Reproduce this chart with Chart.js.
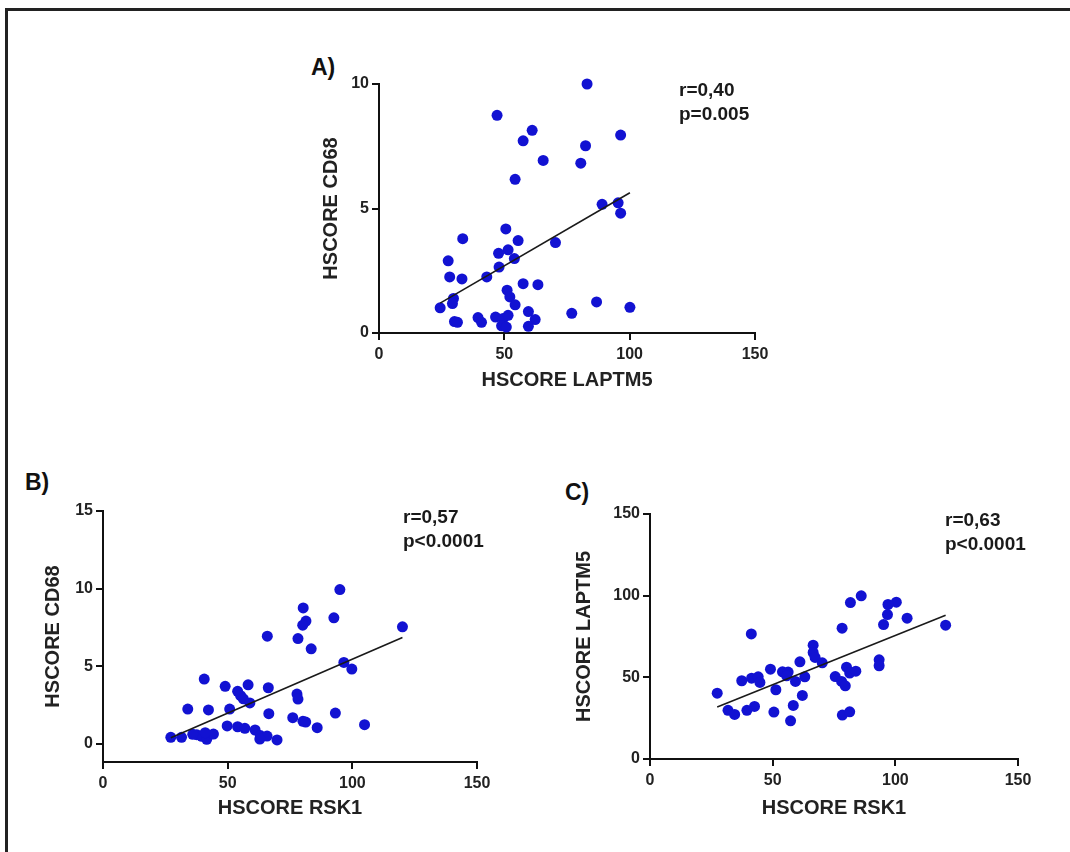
<!DOCTYPE html>
<html>
<head>
<meta charset="utf-8">
<script src="https://cdn.jsdelivr.net/npm/chart.js@4.4.1/dist/chart.umd.min.js"></script>
<style>
  body { margin: 0; background: #fff; font-family: 'Liberation Sans', Arial, sans-serif; }
  #page { position: relative; width: 1070px; height: 852px; overflow: hidden; background: #fff; }
  #frame { position: absolute; left: 5px; top: 8px; width: 1080px; height: 860px; border-top: 3px solid #222; border-left: 3px solid #222; }
  canvas { position: absolute; }
  .panel { position: absolute; font-weight: bold; font-size: 23px; line-height: 23px; color: #111; }
  .stats { position: absolute; font-weight: bold; font-size: 19px; line-height: 24px; color: #1a1a1a; white-space: nowrap; }
</style>
</head>
<body>
<div id="page">
  <div id="frame"></div>

  <div class="panel" style="left: 311px; top: 56px;">A)</div>
  <div class="panel" style="left: 25px; top: 471px;">B)</div>
  <div class="panel" style="left: 565px; top: 481px;">C)</div>

  <canvas id="chartA" width="490" height="370"></canvas>
  <canvas id="chartB" width="490" height="360"></canvas>
  <canvas id="chartC" width="490" height="360"></canvas>

  <div class="stats" style="left: 679px; top: 78px;">r=0,40<br>p=0.005</div>
  <div class="stats" style="left: 403px; top: 505px;">r=0,57<br>p&lt;0.0001</div>
  <div class="stats" style="left: 945px; top: 508px;">r=0,63<br>p&lt;0.0001</div>
</div>

<script>
// Panel A: HSCORE LAPTM5 (x) vs HSCORE CD68 (y)
var laptm5A = [83, 47.1, 61.1, 57.5, 96.4, 82.4, 65.5, 80.5, 54.3, 89.0, 95.4, 96.4, 50.6, 33.4, 55.5,
  70.4, 47.7, 51.5, 54.0, 47.9, 27.6, 28.2, 33.1, 43.0, 57.5, 63.4, 51.1, 52.2, 54.3, 29.7,
  29.3, 24.4, 86.8, 100.1, 76.9, 59.6, 62.3, 59.6, 39.5, 40.9, 30.1, 31.3, 46.5, 49.5, 51.5, 48.9, 50.8];
var cd68A = [10.0, 8.74, 8.14, 7.72, 7.95, 7.52, 6.93, 6.82, 6.17, 5.17, 5.23, 4.81, 4.18, 3.79, 3.71,
  3.63, 3.20, 3.34, 2.99, 2.65, 2.90, 2.25, 2.17, 2.25, 1.98, 1.94, 1.72, 1.45, 1.13, 1.39,
  1.18, 1.01, 1.25, 1.03, 0.79, 0.86, 0.54, 0.27, 0.62, 0.43, 0.46, 0.43, 0.64, 0.58, 0.71, 0.29, 0.24];
var fitXA = [24.4, 100.1];
var fitYA = [1.2, 5.63];

// Panel B: HSCORE RSK1 (x) vs HSCORE CD68 (y)
var rsk1B = [95.0, 80.3, 92.6, 81.4, 80.1, 120.1, 65.9, 78.2, 83.5, 96.6, 99.8, 40.6, 49.0, 58.2, 66.3,
  54.0, 55.2, 56.3, 58.9, 77.8, 78.2, 34.0, 42.3, 50.8, 66.5, 93.2, 76.1, 80.2, 81.3, 85.9,
  104.9, 49.8, 54.0, 56.9, 61.0, 63.1, 65.8, 69.8, 62.9, 27.2, 31.5, 37.6, 39.6, 41.6, 44.3, 41.0, 36.0];
var cd68B = [9.94, 8.76, 8.12, 7.91, 7.65, 7.54, 6.94, 6.79, 6.13, 5.25, 4.82, 4.18, 3.71, 3.81, 3.62,
  3.39, 3.11, 2.91, 2.64, 3.21, 2.89, 2.25, 2.19, 2.25, 1.95, 1.99, 1.69, 1.46, 1.41, 1.05,
  1.24, 1.16, 1.11, 1.01, 0.90, 0.54, 0.51, 0.26, 0.32, 0.43, 0.43, 0.60, 0.49, 0.30, 0.64, 0.73, 0.62];
var fitXB = [27.2, 120.1];
var fitYB = [0.4, 6.86];

// Panel C: HSCORE RSK1 (x) vs HSCORE LAPTM5 (y)
var rsk1C = [86.1, 81.7, 100.4, 97.0, 96.8, 104.8, 95.2, 120.5, 78.3, 41.3, 66.5, 66.5, 67.3, 70.2, 61.1,
  93.4, 93.4, 49.1, 54.0, 56.3, 55.7, 63.1, 59.3, 75.5, 80.1, 81.4, 83.9, 78.1, 79.6, 37.4,
  41.4, 44.1, 44.8, 27.4, 51.3, 62.1, 58.4, 42.6, 39.5, 31.8, 34.5, 50.5, 57.3, 78.4, 81.4];
var laptm5C = [99.9, 95.8, 96.0, 94.6, 88.4, 86.2, 82.3, 81.9, 80.1, 76.6, 69.7, 65.2, 62.2, 58.9, 59.5,
  60.7, 57.1, 55.0, 53.4, 53.2, 50.9, 50.3, 47.5, 50.5, 56.2, 52.6, 53.8, 47.5, 44.8, 47.9,
  49.5, 50.3, 46.9, 40.3, 42.4, 38.9, 32.8, 32.2, 29.8, 29.8, 27.3, 28.7, 23.4, 26.9, 28.9];
var fitXC = [27.4, 120.5];
var fitYC = [31.8, 88.0];

// Axis ranges and tick steps
var xTicks = [0, 50, 100, 150];
var yRangeA = [0, 10, 5];
var yRangeB = [-1.16, 15, 5];
var yRangeC = [0, 150, 50];

Chart.defaults.font.family = "'Liberation Sans', Arial, sans-serif";
Chart.defaults.font.weight = 'bold';
Chart.defaults.color = '#222';

var DOT_COLOR = '#1212d2';
var AXIS_COLOR = '#111';

// Pair two value lists into {x, y} points.
function toPoints(xs, ys) {
  return xs.map(function (x, i) {
    return { x: x, y: ys[i] };
  });
}

function axisStyle() {
  return {
    border: { color: AXIS_COLOR, width: 2 },
    grid: {
      drawOnChartArea: false,
      drawTicks: true,
      tickLength: 7,
      color: AXIS_COLOR,
      lineWidth: 2,
    },
  };
}

// Draw one scatter panel. box holds the canvas placement and the fixed
// paddings so the plot areas land where they are in the figure.
function drawPanel(id, box, xs, ys, fitX, fitY, xTitle, yTitle, yRange) {
  var canvas = document.getElementById(id);
  canvas.style.left = box.left + 'px';
  canvas.style.top = box.top + 'px';

  var xAxis = axisStyle();
  xAxis.type = 'linear';
  xAxis.min = xTicks[0];
  xAxis.max = xTicks[xTicks.length - 1];
  xAxis.ticks = { stepSize: xTicks[1] - xTicks[0], padding: 5, font: { size: 16 }, color: '#222' };
  xAxis.title = { display: true, text: xTitle, font: { size: 20 }, color: '#222', padding: 0 };
  xAxis.afterFit = function (scale) {
    scale.height = box.xHeight;
  };

  var yAxis = axisStyle();
  yAxis.type = 'linear';
  yAxis.min = yRange[0];
  yAxis.max = yRange[1];
  yAxis.ticks = { stepSize: yRange[2], padding: 3, font: { size: 16 }, color: '#222' };
  yAxis.title = { display: true, text: yTitle, font: { size: 20 }, color: '#222', padding: 0 };
  yAxis.afterBuildTicks = function (scale) {
    // Keep only the round tick values (drop a non-round lower bound).
    scale.ticks = scale.ticks.filter(function (t) {
      var q = t.value / yRange[2];
      return Math.abs(q - Math.round(q)) < 1e-6;
    });
  };
  yAxis.afterFit = function (scale) {
    scale.width = box.yWidth;
  };

  return new Chart(canvas, {
    type: 'scatter',
    data: {
      datasets: [
        {
          // Regression line, first so it is drawn over the dots.
          data: toPoints(fitX, fitY),
          showLine: true,
          borderColor: '#1a1a1a',
          borderWidth: 1.6,
          pointRadius: 0,
          clip: false,
        },
        {
          data: toPoints(xs, ys),
          backgroundColor: DOT_COLOR,
          borderColor: DOT_COLOR,
          borderWidth: 0,
          pointRadius: 5.5,
          clip: false,
        },
      ],
    },
    options: {
      responsive: false,
      animation: false,
      events: [],
      layout: { padding: box.padding },
      plugins: {
        legend: { display: false },
        tooltip: { enabled: false },
      },
      scales: { x: xAxis, y: yAxis },
    },
  });
}

drawPanel('chartA',
  { left: 290, top: 40, yWidth: 60, xHeight: 59, padding: { left: 29, top: 44, right: 25, bottom: 18 } },
  laptm5A, cd68A, fitXA, fitYA, 'HSCORE LAPTM5', 'HSCORE CD68', yRangeA);

drawPanel('chartB',
  { left: 20, top: 480, yWidth: 62, xHeight: 58, padding: { left: 21, top: 31, right: 33, bottom: 20 } },
  rsk1B, cd68B, fitXB, fitYB, 'HSCORE RSK1', 'HSCORE CD68', yRangeB);

drawPanel('chartC',
  { left: 560, top: 480, yWidth: 78, xHeight: 61, padding: { left: 12, top: 34, right: 32, bottom: 20 } },
  rsk1C, laptm5C, fitXC, fitYC, 'HSCORE RSK1', 'HSCORE LAPTM5', yRangeC);
</script>
</body>
</html>
